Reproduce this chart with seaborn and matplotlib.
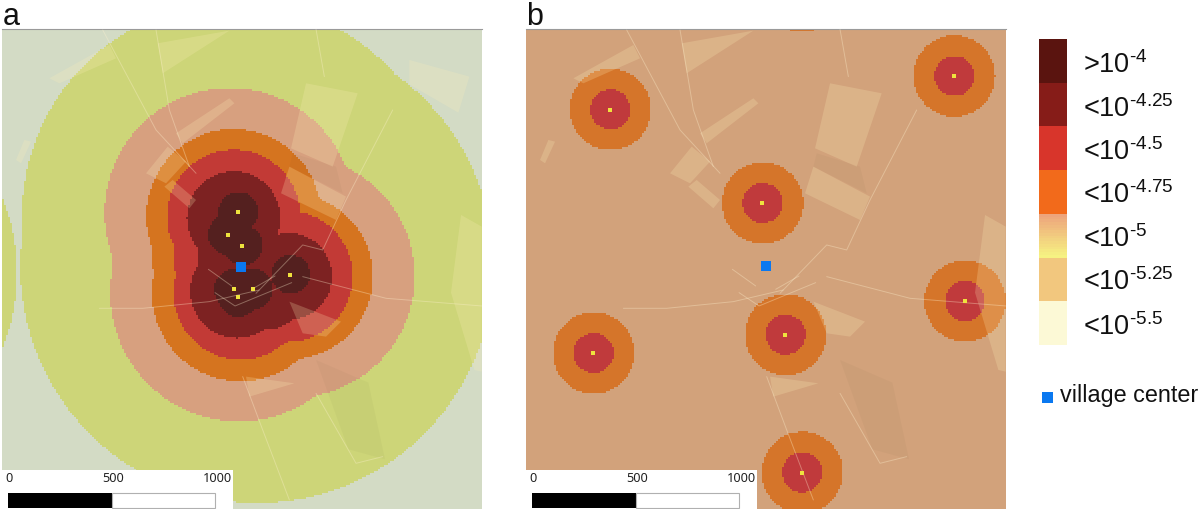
import numpy as np
import matplotlib
matplotlib.use("Agg")
import matplotlib.pyplot as plt
from matplotlib.colors import ListedColormap
from matplotlib.patches import Rectangle, Polygon
import pandas as pd
import seaborn as sns

sns.set_theme(style="white")
plt.rcParams["font.family"] = ["Liberation Sans", "DejaVu Sans"]
plt.rcParams["mathtext.fontset"] = "custom"
plt.rcParams["mathtext.rm"] = "Liberation Sans"
plt.rcParams["mathtext.it"] = "Liberation Sans"
plt.rcParams["mathtext.default"] = "regular"

# Map units: 1 unit = one third of a picture pixel, origin at panel top-left.
METRES_PER_UNIT = 500 / 311
PANEL_SIZE = 1440
CELL = 6

a_colors = ["#d3dbc5", "#cdd578", "#d7a07f", "#d5741f", "#c23a36", "#7d2222", "#54201f"]
b_colors = ["#d3dbc5", "#cdd578", "#d2a27b", "#d5752a", "#c03a3c", "#7d2222", "#54201f"]

# Risk-level outlines, panel a: (x, y, radius)
a_level_1 = [(765, 712, 710), (700, 560, 640), (-565, 732, 610)]
a_level_2 = [(683, 552, 375), (875, 742, 363), (710, 792, 385), (690, 680, 360)]
a_level_3 = [(695, 562, 262), (715, 792, 265), (865, 742, 248), (700, 680, 250)]
a_level_4 = [(695, 562, 200), (715, 792, 200), (855, 742, 197), (705, 680, 192)]
a_level_5 = [(695, 567, 140), (705, 787, 140), (860, 742, 130), (715, 682, 130), (795, 792, 110)]
a_level_6 = [(709, 549, 60), (678, 617, 60), (722, 649, 60), (866, 736, 58),
             (697, 780, 60), (753, 780, 60), (709, 804, 60)]
a_levels = [a_level_1, a_level_2, a_level_3, a_level_4, a_level_5, a_level_6]

a_sources_x = [709, 678, 722, 866, 697, 753, 709]
a_sources_y = [549, 617, 649, 736, 780, 780, 804]
a_village = (717, 712)

# Panel b
b_sources_x = [253, 1285, 710, 1317, 779, 203, 829]
b_sources_y = [241, 141, 522, 816, 917, 972, 1330]
b_offmap_x = [828]
b_offmap_y = [-113]
b_orange_radius = 122
b_red_radius = 60
b_village = (720, 710)

# Landscape, shared by both panels
light_fields = [
    [(913, 162), (1068, 192), (993, 412), (868, 357)],
    [(863, 412), (1033, 502), (1003, 572), (838, 492)],
    [(433, 432), (498, 352), (553, 397), (493, 462)],
    [(488, 472), (513, 452), (583, 512), (563, 537)],
    [(1378, 557), (1440, 592), (1440, 1027), (1418, 1022), (1348, 790)],
    [(523, 312), (683, 207), (698, 222), (543, 342)],
    [(468, 42), (683, 4), (483, 132)],
    [(143, 147), (323, 47), (343, 87), (173, 162)],
    [(43, 392), (68, 332), (88, 337), (58, 402)],
    [(863, 817), (1018, 877), (973, 922), (903, 912)],
    [(733, 1042), (878, 1062), (743, 1102)],
]
a_only_fields = [
    [(1223, 92), (1403, 142), (1370, 250), (1223, 165)],
]
dark_fields = [
    [(873, 372), (1003, 412), (1023, 492), (863, 412)],
    [(943, 992), (1100, 1060), (1150, 1290), (1040, 1260)],
]
roads = [
    [(303, 2), (463, 302), (583, 432)],
    [(463, 2), (503, 242), (563, 412)],
    [(943, 0), (968, 142)],
    [(1173, 242), (1033, 512), (963, 662), (903, 647), (763, 792)],
    [(903, 742), (1153, 807), (1440, 830)],
    [(293, 837), (423, 837), (623, 817), (773, 782)],
    [(723, 1042), (783, 1202), (863, 1412)],
    [(943, 1092), (1063, 1302), (1143, 1282)],
    [(640, 790), (700, 830), (870, 760)],
    [(620, 720), (690, 770)],
    [(750, 780), (820, 740)],
]

legend_labels = [r">10$^{\text{-}4}$", r"<10$^{\text{-}4.25}$", r"<10$^{\text{-}4.5}$",
                 r"<10$^{\text{-}4.75}$", r"<10$^{\text{-}5}$", r"<10$^{\text{-}5.25}$",
                 r"<10$^{\text{-}5.5}$"]
legend_baselines = [73, 117, 160, 203, 247, 290, 335]
legend_colors = ["#5a140f", "#861c18", "#d8352b", "#f26a1b", None, "#f2c77e", "#fcf9d6"]
gradient_ends = ["#eda47c", "#f6f282"]
scale_ticks = [0, 500, 1000]

W, H = 1200, 513
fig = plt.figure(figsize=(W / 100, H / 100), dpi=100)


def px_axes(x0, y0, x1, y1):
    return fig.add_axes([x0 / W, 1 - y1 / H, (x1 - x0) / W, (y1 - y0) / H])


def level_grid(base, layers):
    n = PANEL_SIZE // CELL
    centres = (np.arange(n) + 0.5) * CELL
    xx, yy = np.meshgrid(centres, centres)
    grid = np.full((n, n), base, dtype=float)
    for level, circles in layers:
        for cx, cy, r in circles:
            grid[(xx - cx) ** 2 + (yy - cy) ** 2 <= r ** 2] = level
    return grid


def draw_panel(ax, grid, colors, fields, src_x, src_y, village, scale_right):
    sns.heatmap(grid, ax=ax, cmap=ListedColormap(colors), vmin=-0.5, vmax=6.5,
                cbar=False, xticklabels=False, yticklabels=False)
    ax.set_xlim(0, PANEL_SIZE / CELL)
    ax.set_ylim(PANEL_SIZE / CELL, 0)
    for poly in dark_fields:
        ax.add_patch(Polygon(np.array(poly) / CELL, fc="#3a3a20", ec="none", alpha=0.035, zorder=2))
    for poly in fields:
        ax.add_patch(Polygon(np.array(poly) / CELL, fc="#fff0b8", ec="none", alpha=0.22, zorder=2))
    for line in roads:
        pts = np.array(line) / CELL
        ax.plot(pts[:, 0], pts[:, 1], color="#fff2d0", lw=0.7, alpha=0.35, zorder=3)
    points = pd.DataFrame({"x": np.array(src_x) / CELL, "y": np.array(src_y) / CELL})
    sns.scatterplot(data=points, x="x", y="y", ax=ax, marker="s", s=9, color="#efe23e",
                    linewidth=0, zorder=5, clip_on=True)
    ax.scatter(village[0] / CELL, village[1] / CELL, marker="s", s=58, color="#0a78f0",
               linewidths=0, zorder=6)
    ax.set_xlabel("")
    ax.set_ylabel("")
    # scale box
    ax.add_patch(Rectangle((0, 1322 / CELL), scale_right / CELL, 118 / CELL, fc="white", ec="none", zorder=7))
    x0 = 19
    y0, y1 = 1390, 1437
    ends = [x0 + t / METRES_PER_UNIT for t in scale_ticks]
    ax.add_patch(Rectangle((ends[0] / CELL, y0 / CELL), (ends[1] - ends[0]) / CELL, (y1 - y0) / CELL,
                           fc="black", ec="none", zorder=8))
    ax.add_patch(Rectangle((ends[1] / CELL, y0 / CELL), (ends[2] - ends[1]) / CELL, (y1 - y0) / CELL,
                           fc="white", ec="#b0b0b0", lw=0.8, zorder=8))
    positions = [21, 335, scale_right - 5]
    aligns = ["center", "center", "right"]
    for t, p, al in zip(scale_ticks, positions, aligns):
        ax.text(p / CELL, 1349 / CELL, str(t), ha=al, va="center", fontsize=9.2,
                family="Noto Sans", color="#222222", zorder=9)
    for s in ax.spines.values():
        s.set_visible(False)
    ax.spines["top"].set_visible(True)
    ax.spines["top"].set_color("#9a9a9a")
    ax.spines["top"].set_linewidth(0.8)
    ax.tick_params(left=False, bottom=False)


# Panel a
ax_a = px_axes(1.7, 29.3, 481.7, 509.3)
grid_a = level_grid(0, [(i + 1, c) for i, c in enumerate(a_levels)])
draw_panel(ax_a, grid_a, a_colors, light_fields + a_only_fields,
           a_sources_x, a_sources_y, a_village, 695)

# Panel b
ax_b = px_axes(525.7, 29.3, 1005.7, 509.3)
b_all_x = b_sources_x + b_offmap_x
b_all_y = b_sources_y + b_offmap_y
grid_b = level_grid(2, [
    (3, [(x, y, b_orange_radius) for x, y in zip(b_all_x, b_all_y)]),
    (4, [(x, y, b_red_radius) for x, y in zip(b_all_x, b_all_y)]),
])
draw_panel(ax_b, grid_b, b_colors, light_fields, b_sources_x, b_sources_y, b_village, 695)

fig.text(3 / W, 1 - 25 / H, "a", fontsize=22, color="#111111", va="baseline")
fig.text(526 / W, 1 - 25 / H, "b", fontsize=22, color="#111111", va="baseline")

# Legend colour column
ROWS = 16
palette = []
for c in legend_colors:
    if c is None:
        palette.extend(sns.blend_palette(gradient_ends, ROWS))
    else:
        palette.extend([c] * ROWS)
ax_leg = px_axes(1039, 39, 1066.5, 345)
sns.heatmap(np.arange(len(palette)).reshape(-1, 1), ax=ax_leg, cmap=ListedColormap(palette),
            vmin=-0.5, vmax=len(palette) - 0.5, cbar=False, xticklabels=False, yticklabels=False)

for label, base in zip(legend_labels, legend_baselines):
    fig.text(1083 / W, 1 - base / H, label, fontsize=19.5, color="#111111", va="baseline")

fig.patches.append(Rectangle((1042 / W, 1 - 403 / H), 11 / W, 11 / H, transform=fig.transFigure,
                             fc="#0a78f0", ec="none"))
fig.text(1060 / W, 1 - 402 / H, "village center", fontsize=16.8, color="#111111", va="baseline")

fig.savefig("out.png", dpi=100)
